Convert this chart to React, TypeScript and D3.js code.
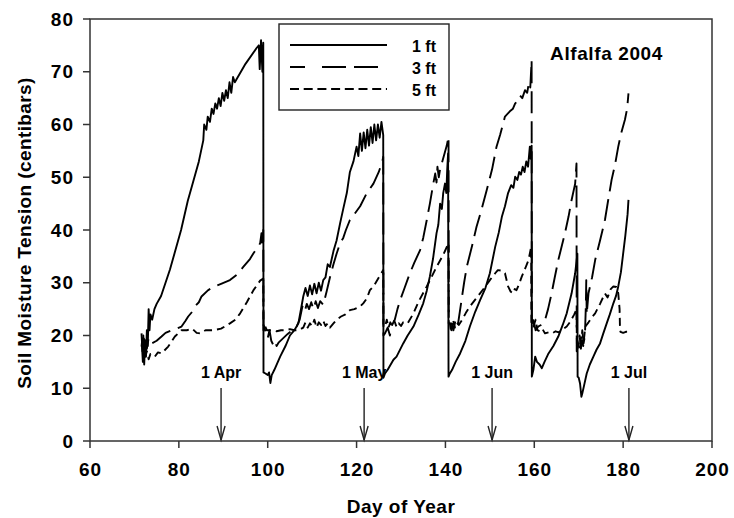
import React from "react";
import * as d3 from "d3";

const xTicks = [60, 80, 100, 120, 140, 160, 180, 200];
const yTicks = [0, 10, 20, 30, 40, 50, 60, 70, 80];

const monthLabels = ["1 Apr", "1 May", "1 Jun", "1 Jul"];
const monthDays = [89.5, 121.7, 150.5, 181.3];

const seriesNames = ["1 ft", "3 ft", "5 ft"];

// 1 ft (solid) : [day of year, centibars]
const ft1: [number, number][] = [
  [71.7, 18], [71.9, 15], [72.0, 20], [72.2, 14.5], [72.4, 19], [72.6, 16], [72.8, 21], [73.0, 18], [73.2, 25], [73.4, 21],
  [73.6, 24], [74.0, 23], [74.5, 25], [75, 26], [76, 27.5], [77, 30], [78, 32.5], [79, 35.5], [80.5, 40], [82, 45.5],
  [83, 48.5], [84.5, 53], [85.5, 57], [85.7, 60], [86.2, 59], [86.5, 61.5], [87, 60.5], [87.4, 63], [87.8, 62], [88.2, 64],
  [88.6, 63], [89, 65], [89.4, 63.5], [89.8, 66], [90.2, 64.5], [90.6, 66.5], [91, 65], [91.4, 68], [91.8, 66], [92.2, 69],
  [92.6, 68], [95, 71.5], [97.5, 74.5], [98.0, 75], [98.2, 70.5], [98.5, 76], [98.8, 70], [99.0, 75.5], [99.05, 13],
  [99.5, 12.8], [100, 12.5], [100.3, 13], [100.6, 11], [100.9, 12.5], [101.5, 13.5], [102.8, 16], [104, 18], [105, 20], [106, 21],
  [106.9, 22.3], [107.6, 25.5], [108, 27.4], [108.5, 29], [109, 27.5], [109.5, 29.5], [110, 27.8], [110.5, 29.8], [111, 28], [111.5, 30],
  [112, 28.5], [112.5, 30.5], [113, 31], [113.5, 33.5], [114, 33], [114.8, 36], [115.5, 38], [116.3, 41.3], [117, 44], [117.8, 47],
  [118.5, 51], [119.3, 53], [120, 55.8], [120.4, 54], [120.8, 58.3], [121.2, 55], [121.6, 58.5], [122, 55.5], [122.4, 59], [122.8, 56],
  [123.2, 59.5], [123.6, 56.5], [124, 60], [124.4, 57], [124.8, 60], [125.2, 57.5], [125.6, 60.5], [126, 58], [126.05, 12],
  [126.4, 12.8], [127, 13.5], [128.3, 15.4], [129, 16], [130.5, 18.5], [131.5, 20], [132.8, 21.7], [134, 24], [135, 26.1], [135.8, 28.5],
  [136.5, 31.2], [137.2, 34.5], [138, 39.4], [138.4, 41], [138.8, 45], [139.2, 44], [139.5, 47], [139.9, 48.8], [140.2, 47], [140.4, 51.4],
  [140.6, 54.5], [140.7, 12.2],
  [141, 12.8], [141.5, 13.5], [142.3, 15], [143.3, 16.6], [144.5, 19], [145.5, 21.7], [146.7, 24.5], [147.8, 26.7], [149, 29], [150, 31.8],
  [151.2, 36.8], [152, 39.5], [152.7, 42.5], [153.4, 44.5], [154.1, 47], [154.8, 48.5], [155.3, 48], [155.7, 50.1], [156.2, 49.5], [156.6, 51],
  [157, 50.5], [157.4, 52], [157.8, 51], [158.2, 53], [158.6, 52], [159, 55.8], [159.2, 53.5], [159.4, 56], [159.45, 12.2],
  [159.8, 13.5], [160.2, 16], [160.6, 15], [161.2, 14.5], [161.7, 13.8], [162.3, 15], [163.2, 16.6], [164.3, 18], [165.4, 19.8], [166.4, 22],
  [167.3, 24.2], [168.4, 28], [169.2, 31.8], [169.5, 34], [169.7, 35.5], [169.75, 12.2],
  [170.0, 12], [170.3, 10.9], [170.6, 8.4], [170.8, 9], [171.2, 10.5], [171.8, 12.8], [172.5, 14.5], [173.3, 16], [174, 17.3], [174.8, 18.5],
  [175.5, 20.3], [176.3, 22.3], [177, 24], [177.8, 26.1], [178.4, 27.5], [178.9, 29.3], [179.5, 32], [180, 35.5], [180.5, 39], [181, 43],
  [181.2, 45.7],
];

// 3 ft (long dash)
const ft3: [number, number][] = [
  [71.6, 20.4], [71.8, 17], [72.0, 19.5], [72.4, 19.1], [72.8, 17.5], [73.2, 19.5], [73.9, 18.5], [75, 19], [76.1, 19.8], [77, 20.5],
  [78.4, 21], [79.5, 21.3], [80.6, 21.7], [81.5, 22.8], [82.1, 23.6], [83, 24.5], [83.6, 25.5], [84.5, 26.3], [85.1, 27.4], [86.6, 28.6],
  [88, 29.3], [89.5, 29.8], [91.5, 30.5], [93, 31.5], [94.5, 33], [96, 34.5], [96.8, 35.6], [98, 37], [98.3, 37.5], [98.6, 39.4],
  [98.8, 37], [99, 40], [99.05, 22],
  [99.3, 21.5], [99.6, 20], [100, 19.5], [100.4, 21], [100.8, 19], [101.2, 18.3], [101.6, 19], [102, 18], [102.5, 18.7], [103.5, 19.5],
  [104.5, 20.3], [105.5, 21], [106.5, 21.7], [107.2, 23], [107.8, 25.5], [108.3, 24.5], [108.8, 26], [109.3, 25], [109.8, 26.3], [110.3, 25],
  [110.8, 26.5], [111.3, 25.2], [111.8, 26.5], [112.5, 25.8], [113.3, 28.5], [114, 31], [114.8, 33.5], [115.5, 35.5], [116.3, 37.5], [117, 38.5],
  [117.6, 40], [118.5, 41.9], [119.5, 43], [120.8, 44.5], [122.3, 47], [123.8, 48.8], [125, 51], [125.8, 53], [126, 53.9], [126.05, 20],
  [126.4, 20.4], [127, 21.5], [127.5, 20], [128, 22], [128.6, 23], [129.2, 25], [129.8, 26.7], [130.8, 29], [132, 31.8], [133, 33.8],
  [134.3, 36.2], [135, 38.5], [135.8, 41.9], [136.5, 45], [137.2, 48.5], [137.7, 50.7], [138, 49], [138.2, 52], [138.5, 50], [138.8, 51.5],
  [139.3, 53], [139.8, 54.5], [140.3, 56], [140.7, 57.7], [140.75, 22.3],
  [141.4, 22.3], [141.8, 21], [142.3, 23], [142.8, 22], [143.5, 26], [144.2, 30], [144.8, 33], [146, 37], [147, 40.6], [148, 43.5],
  [149.3, 47.6], [150.5, 51.5], [151.5, 55.8], [152.3, 58], [153.4, 61.5], [154.5, 62.5], [155.2, 63], [155.7, 64], [156.3, 64.5], [156.8, 65.5],
  [157.3, 65], [157.9, 66.5], [158.4, 66], [158.8, 68], [159.1, 67], [159.4, 72.2], [159.45, 21.5],
  [159.8, 22.9], [160.3, 21], [160.9, 21.7], [161.5, 22], [162.4, 22.9], [163.1, 25], [163.9, 28], [164.6, 31], [165.4, 34.3], [166.2, 37],
  [166.9, 39.4], [167.7, 42.5], [168.4, 45.7], [169.2, 48.8], [169.5, 52.6], [169.55, 17],
  [169.8, 18], [170.2, 20], [170.5, 17.5], [170.8, 21], [171.1, 18.5], [171.4, 20], [171.6, 25.5], [171.7, 30.5], [171.8, 24], [172.2, 28],
  [173, 31], [173.7, 34.3], [174.8, 38], [175.9, 41.9], [176.6, 45.5], [177.4, 49.5], [178.2, 52.5], [178.9, 55.8], [179.6, 58.5], [180.4, 60.9],
  [180.9, 63], [181.2, 65.9],
];

// 5 ft (short dash)
const ft5: [number, number][] = [
  [71.6, 17.9], [71.8, 19.5], [72.0, 16.5], [72.4, 16], [72.8, 17], [73.2, 15.5], [73.6, 16.5], [74.6, 16], [75.3, 16.8], [76.1, 16.6],
  [77.6, 17.9], [79.1, 19.8], [80.6, 21], [81.8, 21], [83, 21.3], [84, 20.5], [84.8, 20.4], [86, 21], [87.8, 21], [89.5, 21.3],
  [91.5, 22.3], [92.7, 23], [93.8, 24.2], [95.3, 26.3], [96.8, 28.6], [98.3, 30.4], [99, 30.8], [99.05, 21],
  [99.3, 22], [99.8, 21], [101, 21], [102, 20.8], [103, 21], [104, 21], [105, 21.2], [106, 21], [107, 21], [108, 21.5],
  [108.5, 22.5], [109, 21.5], [109.5, 22.3], [110, 21.8], [110.5, 23], [111, 21.5], [111.5, 22.5], [112, 22], [112.5, 22.8], [113, 21.8],
  [113.5, 22.3], [114, 21.5], [114.8, 22.3], [115.5, 23], [116.5, 23.6], [117.5, 24], [118.5, 24.8], [119.5, 25], [120.8, 25.5], [121.5, 26.1],
  [122.3, 27], [123, 28.6], [123.8, 29.3], [125, 31], [126, 32.4], [126.05, 21.6],
  [126.4, 21.6], [126.8, 23], [127.2, 21.5], [127.6, 22.5], [128, 21.8], [128.5, 22.8], [129, 21.6], [129.5, 22.3], [130, 21.8], [130.5, 22.5],
  [131.5, 22.3], [132.8, 24.2], [134, 26.5], [135.8, 29.3], [137, 31.3], [138, 33], [139.5, 35.3], [140.7, 37.5], [140.75, 22.3],
  [141, 22.3], [141.3, 20.5], [141.7, 23], [142.1, 21.5], [142.5, 22.5], [143, 22], [143.8, 23], [144.6, 24.3], [145.5, 25.5], [146.7, 26.8],
  [147.8, 28], [149, 29.3], [150, 30.5], [151.2, 31.8], [151.8, 32.4], [152.6, 32.3], [153.4, 31.8], [154.1, 29.3], [154.7, 28.3], [155.3, 28],
  [155.6, 28.8], [156, 28.6], [156.6, 29.8], [157.2, 31.2], [158, 32.8], [158.7, 34.3], [159.3, 36.8], [159.35, 21.7],
  [159.8, 21.7], [160.3, 23], [160.7, 21], [161.2, 20.8], [161.8, 21.3], [162.4, 20.4], [163.2, 20.6], [164, 20.4], [164.8, 20.8], [165.5, 20.6],
  [166.2, 21], [167.3, 21.7], [168, 22.5], [169, 24], [169.5, 25], [169.6, 18],
  [169.7, 19], [170.2, 17.5], [170.6, 20], [171, 18], [171.5, 21.7], [172.2, 22.5], [173, 23.5], [173.7, 24.2], [174.8, 26], [175.9, 28],
  [176.5, 27.2], [177.2, 28.8], [177.8, 29.3], [178.5, 29.2], [178.9, 28], [179.2, 25], [179.3, 21], [179.4, 20.7], [180, 20.5], [180.6, 20.7],
  [181.2, 20.7],
];

const seriesData = [ft1, ft3, ft5];
const dashes = ["none", "22,8", "8,5"];
const legendDashes = ["none", "15,17,24,8,24,9", "9,4.7"];

const W = 734;
const H = 518;
const FONT = "Arial, 'Liberation Sans', Helvetica, sans-serif";

export default function App() {
  const x = d3.scaleLinear().domain([60, 200]).range([90, 712]);
  const y = d3.scaleLinear().domain([0, 80]).range([441, 19]);
  const line = d3
    .line<[number, number]>()
    .x((d) => x(d[0]))
    .y((d) => y(d[1]));

  const legX0 = 279, legY0 = 24, legW = 170, legH = 86;

  return (
    <svg
      width={W}
      height={H}
      style={{ position: "absolute", left: 0, top: 0, background: "#fff" }}
      fontFamily={FONT}
      fontWeight="bold"
    >
      <rect x={0} y={0} width={W} height={H} fill="#fff" />
      {/* data */}
      {seriesData.map((s, i) => (
        <path
          key={i}
          d={line(s) || ""}
          fill="none"
          stroke="#000"
          strokeWidth={1.9}
          strokeDasharray={dashes[i]}
          strokeLinejoin="round"
        />
      ))}
      {/* frame */}
      <rect
        x={x(60)}
        y={y(80)}
        width={x(200) - x(60)}
        height={y(0) - y(80)}
        fill="none"
        stroke="#333"
        strokeWidth={1.5}
      />
      {/* x ticks */}
      {xTicks.map((t) => (
        <g key={"x" + t}>
          <line x1={x(t)} x2={x(t)} y1={y(0)} y2={y(0) + 7} stroke="#333" strokeWidth={1.5} />
          <text x={x(t) + 0.5} y={476} textAnchor="middle" fontSize={19} letterSpacing={1} fill="#000">
            {t}
          </text>
        </g>
      ))}
      {/* y ticks */}
      {yTicks.map((t) => (
        <g key={"y" + t}>
          <line x1={x(60) - 7} x2={x(60)} y1={y(t)} y2={y(t)} stroke="#333" strokeWidth={1.5} />
          <text x={74} y={y(t) + 6.5} textAnchor="end" fontSize={19} letterSpacing={1} fill="#000">
            {t}
          </text>
        </g>
      ))}
      {/* axis titles */}
      <text x={401} y={513} textAnchor="middle" fontSize={19} letterSpacing={0.5} fill="#000">
        Day of Year
      </text>
      <text
        transform={`translate(31,${233}) rotate(-90)`}
        textAnchor="middle"
        fontSize={19}
        letterSpacing={0.4}
        fill="#000"
      >
        Soil Moisture Tension (centibars)
      </text>
      {/* month annotations */}
      {monthDays.map((d, i) => {
        const ax = x(d);
        return (
          <g key={"m" + i}>
            <text x={ax} y={378} textAnchor="middle" fontSize={16} fill="#000">
              {monthLabels[i]}
            </text>
            <line x1={ax} x2={ax} y1={388} y2={440} stroke="#222" strokeWidth={1.4} />
            <polyline
              points={`${ax - 4},${426} ${ax},${440} ${ax + 4},${426}`}
              fill="none"
              stroke="#222"
              strokeWidth={1.4}
            />
          </g>
        );
      })}
      {/* title */}
      <text x={606.5} y={60} textAnchor="middle" fontSize={19} letterSpacing={0.6} fill="#000">
        Alfalfa 2004
      </text>
      {/* legend */}
      <rect x={legX0} y={legY0} width={legW} height={legH} fill="#fff" stroke="#222" strokeWidth={1.4} />
      {seriesNames.map((n, i) => {
        const ly = 45 + i * 22;
        return (
          <g key={"l" + i}>
            <line
              x1={290}
              x2={387}
              y1={ly}
              y2={ly}
              stroke="#000"
              strokeWidth={1.9}
              strokeDasharray={legendDashes[i]}
            />
            <text x={436} y={ly + 6.5} textAnchor="end" fontSize={16} fill="#000">
              {n}
            </text>
          </g>
        );
      })}
    </svg>
  );
}
